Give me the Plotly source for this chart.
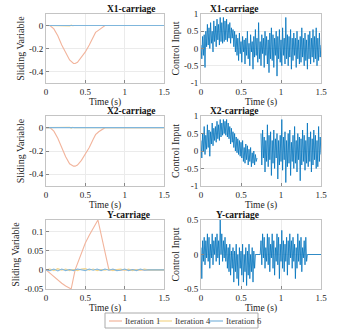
import numpy as np
import plotly.graph_objects as go

FONT = 'Liberation Serif, Times New Roman, serif'
GRID = '#ebebeb'
FRAME = '#c4c4c4'
C_IT1 = '#f2b49c'
C_IT4 = '#f4d58a'
C_IT6 = '#7fb6dc'
C_CTRL = '#0072BD'

panel_titles = ['X1-carriage', 'X2-carriage', 'Y-carriage']
legend_names = ['Iteration 1', 'Iteration 4', 'Iteration 6']

# sliding variable, iteration 1 (sparse samples)
t_s1 = [0, 0.05, 0.1, 0.15, 0.2, 0.25, 0.3, 0.35, 0.37, 0.4, 0.45, 0.5, 0.55, 0.6, 0.63, 0.67, 0.72, 0.75, 1.5]
x1_s1 = [0, 0, -0.03, -0.09, -0.17, -0.24, -0.3, -0.33, -0.33, -0.32, -0.28, -0.23, -0.17, -0.1, -0.06, -0.04, -0.01, 0, 0]
x2_s1 = [0, 0, -0.03, -0.09, -0.17, -0.25, -0.31, -0.33, -0.33, -0.32, -0.28, -0.23, -0.17, -0.1, -0.06, -0.035, -0.01, 0, 0]
t_ys1 = [0, 0.05, 0.1, 0.15, 0.2, 0.25, 0.3, 0.32, 0.37, 0.45, 0.5, 0.55, 0.6, 0.66, 0.8, 1.5]
y_s1 = [0, -0.009, -0.018, -0.027, -0.035, -0.042, -0.048, -0.05, 0, 0.045, 0.07, 0.09, 0.11, 0.13, 0, 0]

# iterations 4 and 6 stay close to zero
t_x4 = [0, 0.28, 0.3, 0.32, 0.34, 0.36, 1.5]
x1_s4 = [0, 0, -0.004, 0.003, -0.002, 0, 0]
x2_s4 = [0, 0, 0.004, -0.003, 0.003, 0, 0]
t_x6 = [0, 1.5]
x_s6 = [0, 0]
t_y46 = [0, 0.05, 0.1, 0.15, 0.2, 0.25, 0.3, 0.35, 0.4, 0.45, 0.5, 0.55, 0.6, 0.65, 0.7, 0.75,
         0.8, 0.85, 0.9, 0.95, 1.0, 1.05, 1.1, 1.15, 1.2, 1.25, 1.3, 1.5]
y_s4 = [0, 0.002, -0.002, 0.003, -0.001, 0.002, -0.002, 0.001, -0.002, 0.002, 0.003, -0.001, 0.002,
        -0.002, 0.001, -0.001, 0.002, -0.002, 0.001, 0.002, -0.001, 0.002, -0.002, 0.001, -0.001, 0.002, 0, 0]
y_s6 = [0, -0.002, 0.002, -0.003, 0.002, -0.002, 0.001, -0.002, 0.002, -0.001, -0.002, 0.002, -0.001,
        0.002, -0.002, 0.002, -0.001, 0.002, -0.002, -0.001, 0.002, -0.002, 0.001, -0.002, 0.002, -0.001, 0, 0]

# control input (iteration 6), sampled every 0.01 s
t_u = np.round(np.arange(151) * 0.01, 2)
x1_u = [0.1, -0.3, 0.35, -0.2, 0.4, -0.55, 0.5, 0.05, 0.7, 0.1,
        0.6, 0.0, 0.75, 0.15, 0.5, -0.1, 0.8, 0.2, 0.65, 0.05,
        0.85, 0.25, 0.7, 0.1, 0.9, 0.2, 0.75, 0.15, 0.9, 0.2,
        0.8, 0.25, 0.85, 0.2, 0.7, 0.3, 0.75, 0.15, 0.6, 0.3,
        0.55, 0.05, 0.5, -0.1, 0.4, -0.2, 0.3, -0.35, 0.45, -0.15,
        0.2, -0.4, 0.35, -0.1, 0.25, -0.45, 0.3, -0.2, 0.5, -0.3,
        0.15, -0.5, 0.4, -0.1, 0.2, -0.6, 0.35, -0.25, 0.55, -0.2,
        0.3, -0.4, 0.75, -0.3, 0.2, -0.5, 0.4, -0.15, 0.3, -0.55,
        0.5, -0.2, 0.35, -0.45, 0.25, -0.7, 0.45, -0.3, 0.6, -0.35,
        0.4, -0.55, 0.3, -0.2, 0.5, -0.8, 0.35, -0.3, 0.55, -0.4,
        0.25, -0.5, 0.6, -0.2, 0.3, -0.45, 0.9, -0.3, 0.4, -0.5,
        0.35, -0.25, 0.55, -0.6, 0.3, -0.35, 0.45, -0.2, 0.3, -0.55,
        0.5, -0.3, 0.25, -0.45, 0.35, -0.4, 0.6, -0.25, 0.3, -0.5,
        0.45, -0.35, 0.25, -0.6, 0.4, -0.3, 0.5, -0.45, 0.3, -0.25,
        0.55, -0.4, 0.35, -0.3, 0.6, -0.5, 0.3, -0.35, 0.45, -0.25,
        0.1]
x2_u = [0.3, -0.2, 0.5, 0.0, 0.7, -0.1, 0.45, 0.05, 0.75, 0.1,
        0.6, -0.15, 0.55, 0.2, 0.8, 0.15, 0.65, 0.3, 0.7, 0.25,
        0.85, 0.35, 0.75, 0.3, 0.9, 0.4, 0.8, 0.45, 0.9, 0.5,
        0.85, 0.45, 0.9, 0.4, 0.8, 0.35, 0.7, 0.2, 0.65, 0.25,
        0.55, 0.1, 0.5, 0.0, 0.4, -0.05, 0.35, -0.1, 0.3, -0.15,
        0.25, -0.2, 0.3, -0.3, 0.1, -0.35, 0.2, -0.25, 0.15, -0.4,
        0.05, -0.3, 0.1, -0.45, -0.05, -0.35, 0.0, -0.4, -0.1, -0.3,
        -0.2, None, None, None, None, 0.5, -0.4, 0.6, -0.2, 0.4,
        -0.6, 0.3, -0.3, 0.75, -0.45, 0.45, -0.25, 0.55, -0.7, 0.3,
        -0.35, 0.6, -0.5, 0.35, -0.2, 0.5, -0.8, 0.3, -0.4, 0.45,
        -0.3, 0.9, -0.55, 0.4, -0.25, 0.55, -0.9, 0.3, -0.45, 0.5,
        -0.35, 0.6, -0.7, 0.25, -0.3, 0.45, -0.5, 0.7, -0.35, 0.3,
        -0.6, 0.5, -0.25, 0.4, -0.85, 0.35, -0.4, 0.6, -0.3, 0.45,
        -0.55, 0.3, -0.35, 0.8, -0.45, 0.4, -0.3, 0.55, -0.6, 0.35,
        -0.4, 0.6, -0.25, 0.45, -0.5, 0.3, -0.45, 0.7, -0.3, 0.4,
        -0.1]
y_u = [0.1, -0.35, 0.2, -0.1, 0.25, -0.15, 0.2, -0.05, 0.3, -0.1,
       0.25, -0.2, 0.15, -0.05, 0.3, -0.15, 0.2, 0.0, 0.25, -0.1,
       0.3, -0.05, 0.2, -0.15, 0.5, 0.0, 0.3, -0.1, 0.2, -0.05,
       0.25, -0.1, 0.15, -0.2, 0.1, -0.25, 0.15, -0.3, 0.05, -0.2,
       0.1, -0.4, 0.05, -0.25, 0.15, -0.35, 0.0, -0.45, 0.1, -0.2,
       0.05, -0.3, 0.15, -0.4, 0.0, -0.25, 0.1, -0.45, 0.05, -0.3,
       0.15, -0.35, 0.0, -0.25, 0.1, -0.4, 0.05, -0.2, 0.0, 0.0,
       0.0, 0.0, 0.0, 0.0, 0.0, 0.2, -0.15, 0.3, -0.05, 0.25,
       -0.2, 0.1, -0.1, 0.3, -0.15, 0.25, -0.25, 0.15, -0.05, 0.3,
       -0.2, 0.2, -0.3, 0.1, -0.1, 0.3, -0.15, 0.25, -0.35, 0.15,
       -0.1, 0.35, -0.2, 0.2, -0.25, 0.15, -0.1, 0.25, -0.3, 0.2,
       -0.15, 0.3, -0.05, 0.2, -0.2, 0.25, -0.1, 0.15, -0.35, 0.1,
       -0.2, 0.3, -0.1, 0.2, -0.15, 0.25, -0.25, 0.1, -0.05, 0.2,
       -0.15, 0.25, -0.1, 0.0, 0.0, 0.0, 0.0, 0.0, 0.0, 0.0,
       0.0, 0.0, 0.0, 0.0, 0.0, 0.0, 0.0, 0.0, 0.0, 0.0,
       0.0]

x_ticks = [0, 0.5, 1, 1.5]
x_ticktext = ['0', '0.5', '1', '1.5']
s_ticks = [-0.4, -0.2, 0]
s_ticktext = ['-0.4', '-0.2', '0']
ys_ticks = [-0.05, 0, 0.05, 0.1]
ys_ticktext = ['-0.05', '0', '0.05', '0.1']
u_ticks = [-1, -0.5, 0, 0.5, 1]
u_ticktext = ['-1', '-0.5', '0', '0.5', '1']
uy_ticks = [-0.5, 0, 0.5]
uy_ticktext = ['-0.5', '0', '0.5']

W, H = 354, 330
col_px = [(46, 164), (201, 321)]
row_px = [(14, 83), (116, 186), (220, 289)]

fig = go.Figure()

left_data = [
    [(t_s1, x1_s1), (t_x4, x1_s4), (t_x6, x_s6)],
    [(t_s1, x2_s1), (t_x4, x2_s4), (t_x6, x_s6)],
    [(t_ys1, y_s1), (t_y46, y_s4), (t_y46, y_s6)],
]
right_data = [x1_u, x2_u, y_u]
colors = [C_IT1, C_IT4, C_IT6]

axis_font = dict(family=FONT, size=9, color='#222')
n = 0
for r in range(3):
    for c in range(2):
        n += 1
        xa = 'x' if n == 1 else f'x{n}'
        ya = 'y' if n == 1 else f'y{n}'
        if c == 0:
            for k, (tt, vv) in enumerate(left_data[r]):
                fig.add_trace(go.Scatter(x=tt, y=vv, mode='lines', name=legend_names[k],
                                         line=dict(color=colors[k], width=1.1),
                                         showlegend=False, xaxis=xa, yaxis=ya))
            if r < 2:
                yr, tv, tx = [-0.5, 0.1], s_ticks, s_ticktext
            else:
                yr, tv, tx = [-0.05, 0.13], ys_ticks, ys_ticktext
            ytitle = 'Sliding Variable'
        else:
            fig.add_trace(go.Scatter(x=t_u, y=right_data[r], mode='lines', showlegend=False,
                                     line=dict(color=C_CTRL, width=0.8), connectgaps=False,
                                     xaxis=xa, yaxis=ya))
            if r < 2:
                yr, tv, tx = [-1, 1], u_ticks, u_ticktext
            else:
                yr, tv, tx = [-0.5, 0.5], uy_ticks, uy_ticktext
            ytitle = 'Control Input'
        x0, x1 = col_px[c]
        y0, y1 = row_px[r]
        common = dict(showline=True, mirror=True, linecolor=FRAME, linewidth=1,
                      showgrid=True, gridcolor=GRID, zeroline=False, automargin=False,
                      ticks='inside', ticklen=3, tickcolor='#888', tickfont=axis_font)
        fig.layout[('xaxis' if n == 1 else f'xaxis{n}')] = dict(
            domain=[x0 / W, x1 / W], anchor=ya, range=[0, 1.5],
            tickvals=x_ticks, ticktext=x_ticktext,
            title=dict(text='Time (s)', font=dict(family=FONT, size=9.5, color='#222'), standoff=0),
            **common)
        fig.layout[('yaxis' if n == 1 else f'yaxis{n}')] = dict(
            domain=[1 - y1 / H, 1 - y0 / H], anchor=xa, range=yr,
            tickvals=tv, ticktext=tx,
            title=dict(text=ytitle, font=dict(family=FONT, size=10, color='#222'), standoff=2),
            **common)
        fig.add_annotation(text=f'<b>{panel_titles[r]}</b>', xref='paper', yref='paper',
                           x=(x0 + x1) / 2 / W, y=1 - y0 / H, yanchor='bottom', yshift=-2,
                           showarrow=False, font=dict(family=FONT, size=9.5, color='#111'))

# legend box drawn in paper space to match the compact MATLAB legend
fig.add_shape(type='rect', xref='paper', yref='paper',
              x0=105 / W, x1=258 / W, y0=1 - 328 / H, y1=1 - 313 / H,
              line=dict(color='#aaa', width=1), fillcolor='white')
leg_x = [(109, 122), (158, 172), (209, 223)]
for k, (a, b) in enumerate(leg_x):
    fig.add_shape(type='line', xref='paper', yref='paper',
                  x0=a / W, x1=b / W, y0=1 - 321 / H, y1=1 - 321 / H,
                  line=dict(color=colors[k], width=1.2))
    fig.add_annotation(text=legend_names[k], xref='paper', yref='paper',
                       x=(b + 1) / W, y=1 - 321 / H, xanchor='left', yanchor='middle',
                       showarrow=False, font=dict(family=FONT, size=8.5, color='#333'))

fig.update_layout(
    width=W, height=H, margin=dict(l=0, r=0, t=0, b=0),
    paper_bgcolor='white', plot_bgcolor='white', showlegend=False,
)

fig.write_html("out.html", config={'displayModeBar': False},
               post_script="document.body.style.margin='0px';")
